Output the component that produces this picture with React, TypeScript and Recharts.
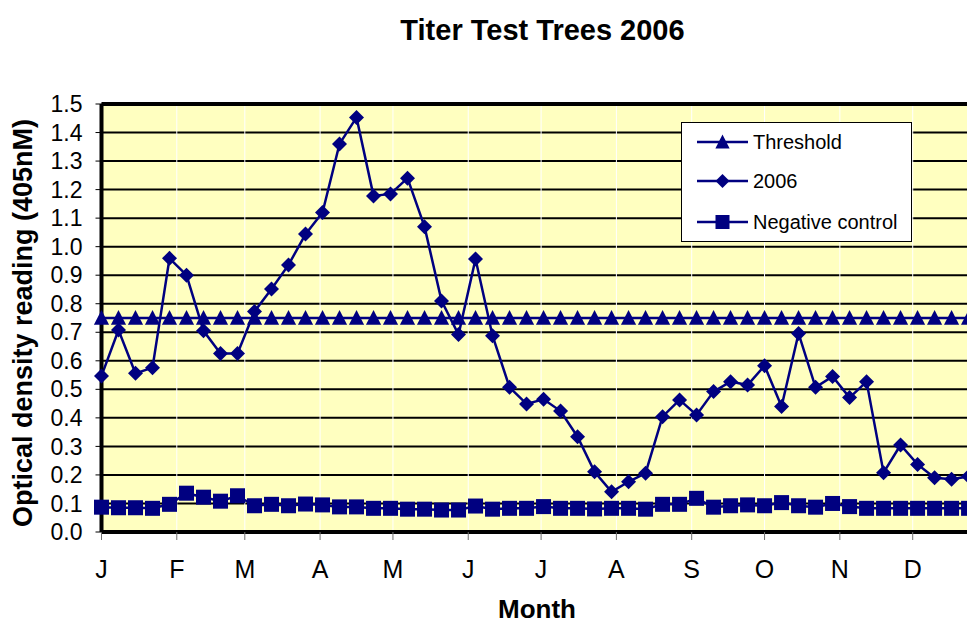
import { CartesianGrid, Line, LineChart, ReferenceLine, XAxis, YAxis } from "recharts";

// weekly sampling, day of year (0 = Jan 1)
const weekDays = [
  0, 7, 14, 21, 28, 35, 42, 49, 56, 63, 70, 77, 84, 91, 98, 105, 112, 119, 126,
  133, 140, 147, 154, 161, 168, 175, 182, 189, 196, 203, 210, 217, 224, 231, 238,
  245, 252, 259, 266, 273, 280, 287, 294, 301, 308, 315, 322, 329, 336, 343, 350,
  357,
];

const monthStarts = [0, 31, 59, 90, 120, 151, 181, 212, 243, 273, 304, 334];
const monthLabels = ["J", "F", "M", "A", "M", "J", "J", "A", "S", "O", "N", "D"];

const yTicks = [0, 0.1, 0.2, 0.3, 0.4, 0.5, 0.6, 0.7, 0.8, 0.9, 1.0, 1.1, 1.2, 1.3, 1.4, 1.5];

const threshold = [
  0.75, 0.75, 0.75, 0.75, 0.75, 0.75, 0.75, 0.75, 0.75, 0.75, 0.75, 0.75, 0.75,
  0.75, 0.75, 0.75, 0.75, 0.75, 0.75, 0.75, 0.75, 0.75, 0.75, 0.75, 0.75, 0.75,
  0.75, 0.75, 0.75, 0.75, 0.75, 0.75, 0.75, 0.75, 0.75, 0.75, 0.75, 0.75, 0.75,
  0.75, 0.75, 0.75, 0.75, 0.75, 0.75, 0.75, 0.75, 0.75, 0.75, 0.75, 0.75, 0.75,
];

const reading2006 = [
  0.547, 0.708, 0.556, 0.576, 0.959, 0.9, 0.705, 0.626, 0.626, 0.773, 0.852,
  0.936, 1.044, 1.12, 1.36, 1.453, 1.178, 1.185, 1.24, 1.07, 0.81, 0.692, 0.957,
  0.688, 0.507, 0.449, 0.465, 0.424, 0.334, 0.211, 0.141, 0.176, 0.206, 0.404,
  0.463, 0.41, 0.492, 0.527, 0.515, 0.583, 0.44, 0.696, 0.507, 0.545, 0.471,
  0.527, 0.208, 0.305, 0.237, 0.19, 0.185, 0.195,
];

const negativeControl = [
  0.087, 0.085, 0.085, 0.083, 0.097, 0.136, 0.122, 0.108, 0.127, 0.092, 0.097,
  0.092, 0.098, 0.095, 0.088, 0.088, 0.083, 0.083, 0.08, 0.08, 0.077, 0.077,
  0.091, 0.08, 0.083, 0.083, 0.089, 0.083, 0.083, 0.081, 0.083, 0.083, 0.08,
  0.097, 0.097, 0.118, 0.087, 0.092, 0.095, 0.092, 0.103, 0.092, 0.087, 0.1,
  0.089, 0.083, 0.083, 0.083, 0.083, 0.083, 0.083, 0.083,
];

const data = weekDays.map((day, i) => ({
  day,
  threshold: threshold[i],
  reading: reading2006[i],
  negative: negativeControl[i],
}));

const NAVY = "#000080";
const FONT = "'Liberation Sans', Arial, Helvetica, sans-serif";

function trianglePoints(cx: number, cy: number, h: number) {
  return `${cx},${cy - h} ${cx + h * 0.95},${cy + h * 0.85} ${cx - h * 0.95},${cy + h * 0.85}`;
}

function diamondPoints(cx: number, cy: number, h: number) {
  return `${cx},${cy - h} ${cx + h},${cy} ${cx},${cy + h} ${cx - h},${cy}`;
}

const TriangleDot = (props: any) => {
  const { cx, cy, index } = props;
  if (cx == null || cy == null) return <g key={`t-${index}`} />;
  return <polygon key={`t-${index}`} points={trianglePoints(cx, cy, 8)} fill={NAVY} />;
};

const DiamondDot = (props: any) => {
  const { cx, cy, index } = props;
  if (cx == null || cy == null) return <g key={`d-${index}`} />;
  return <polygon key={`d-${index}`} points={diamondPoints(cx, cy, 7.5)} fill={NAVY} />;
};

const SquareDot = (props: any) => {
  const { cx, cy, index } = props;
  if (cx == null || cy == null) return <g key={`s-${index}`} />;
  return <rect key={`s-${index}`} x={cx - 7.5} y={cy - 7.5} width={15} height={15} fill={NAVY} />;
};

const legendRows = [
  { label: "Threshold", y: 142, shape: "triangle" },
  { label: "2006", y: 181, shape: "diamond" },
  { label: "Negative control", y: 222, shape: "square" },
];

export default function App() {
  return (
    <div
      style={{
        position: "absolute",
        left: 0,
        top: 0,
        width: 967,
        height: 624,
        overflow: "hidden",
        background: "#fff",
      }}
    >
      <LineChart
        width={1000}
        height={624}
        data={data}
        margin={{ top: 104, right: 12, bottom: 0, left: 0 }}
      >
        <CartesianGrid fill="#FFFFC0" stroke="#000" strokeWidth={2} vertical={false} />
        <CartesianGrid stroke="#fff" strokeWidth={1} horizontal={false} />
        <XAxis
          dataKey="day"
          type="number"
          domain={[0, 365]}
          ticks={monthStarts}
          interval={0}
          height={92}
          tickSize={8}
          tickMargin={20}
          tickFormatter={(v: number) => monthLabels[monthStarts.indexOf(v)]}
          tick={{ fill: "#000", fontSize: 25, fontFamily: FONT }}
          tickLine={{ stroke: "#707070", strokeWidth: 1 }}
          axisLine={{ stroke: "#000", strokeWidth: 4 }}
        />
        <YAxis
          type="number"
          domain={[0, 1.5]}
          ticks={yTicks}
          interval={0}
          width={101.5}
          tickSize={6}
          tickMargin={13}
          tickFormatter={(v: number) => v.toFixed(1)}
          tick={{ fill: "#000", fontSize: 23, fontFamily: FONT }}
          tickLine={{ stroke: "#000", strokeWidth: 1 }}
          axisLine={{ stroke: "#000", strokeWidth: 4 }}
        />
        <ReferenceLine y={1.5} stroke="#000" strokeWidth={4} />
        <ReferenceLine x={365} stroke="#000" strokeWidth={4} />
        <Line
          dataKey="threshold"
          stroke={NAVY}
          strokeWidth={2.5}
          dot={TriangleDot}
          activeDot={false}
          isAnimationActive={false}
        />
        <Line
          dataKey="reading"
          stroke={NAVY}
          strokeWidth={2.5}
          dot={DiamondDot}
          activeDot={false}
          isAnimationActive={false}
        />
        <Line
          dataKey="negative"
          stroke={NAVY}
          strokeWidth={2.5}
          dot={SquareDot}
          activeDot={false}
          isAnimationActive={false}
        />
      </LineChart>

      <svg
        width={967}
        height={624}
        style={{ position: "absolute", left: 0, top: 0, pointerEvents: "none" }}
        fontFamily={FONT}
      >
        <text x={542.5} y={40} textAnchor="middle" fontSize={29} fontWeight="bold" fill="#000">
          Titer Test Trees 2006
        </text>
        <text
          x={32}
          y={323}
          transform="rotate(-90 32 323)"
          textAnchor="middle"
          fontSize={27}
          fontWeight="bold"
          fill="#000"
        >
          Optical density reading (405nM)
        </text>
        <text x={537} y={618} textAnchor="middle" fontSize={26} fontWeight="bold" fill="#000">
          Month
        </text>

        <rect x={681.5} y={122.5} width={230} height={119} fill="#fff" stroke="#000" strokeWidth={1} />
        {legendRows.map((row) => (
          <g key={row.label}>
            <line x1={697} y1={row.y} x2={748} y2={row.y} stroke={NAVY} strokeWidth={2.5} />
            {row.shape === "triangle" && (
              <polygon points={trianglePoints(722.5, row.y, 7.5)} fill={NAVY} />
            )}
            {row.shape === "diamond" && (
              <polygon points={diamondPoints(722.5, row.y, 7)} fill={NAVY} />
            )}
            {row.shape === "square" && (
              <rect x={715.5} y={row.y - 7} width={14} height={14} fill={NAVY} />
            )}
            <text x={753} y={row.y + 7} fontSize={20} fill="#000">
              {row.label}
            </text>
          </g>
        ))}
      </svg>
    </div>
  );
}
